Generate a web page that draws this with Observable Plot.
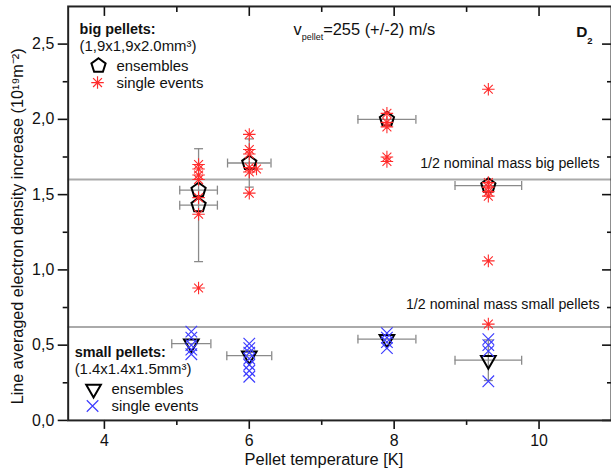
<!DOCTYPE html>
<html><head><meta charset="utf-8">
<script src="https://cdn.jsdelivr.net/npm/d3@7"></script>
<script src="https://cdn.jsdelivr.net/npm/@observablehq/plot@0.6"></script>
<style>
html,body{margin:0;padding:0;overflow:hidden;background:#fff;}
#chart{position:relative;width:611px;height:474px;overflow:hidden;}
</style></head><body><div id="chart"></div>
<script>
// ---- data ----
const bigEnsT    = [5.3, 5.3, 6.0, 7.9, 9.3];
const bigEnsV    = [1.53, 1.43, 1.71, 2.00, 1.56];
const bigEnsTErr = [0.26, 0.26, 0.30, 0.40, 0.46];
const bigEnsVErr = [0, 0.375, 0.16, 0, 0];

const smallEnsT    = [5.2, 6.0, 7.9, 9.3];
const smallEnsV    = [0.51, 0.43, 0.54, 0.40];
const smallEnsTErr = [0.27, 0.31, 0.40, 0.46];
const smallEnsVErr = [0, 0, 0, 0.135];

const bigSingleT = [5.3,5.3,5.3,5.3,5.3,5.3,5.3, 6.0,6.0,6.0,6.0,6.0,6.0,6.1, 7.9,7.9,7.9,7.9,7.9, 9.3,9.3,9.3,9.3,9.3,9.3,9.3];
const bigSingleV = [1.70,1.67,1.63,1.60,1.48,1.37,0.88, 1.90,1.80,1.77,1.68,1.65,1.51,1.67, 2.04,1.98,1.95,1.75,1.72, 2.20,1.58,1.55,1.52,1.49,1.06,0.64];

const smallSingleT = [5.2,5.2,5.2,5.2,5.2, 6.0,6.0,6.0,6.0,6.0,6.0,6.0, 7.9,7.9,7.9,7.9, 9.3,9.3,9.3,9.3];
const smallSingleV = [0.59,0.55,0.50,0.47,0.44, 0.51,0.48,0.45,0.41,0.37,0.33,0.29, 0.58,0.55,0.52,0.48, 0.54,0.50,0.46,0.26];

const refBig = [1.6];
const refSmall = [0.62];
const refBigLabel = "1/2 nominal mass big pellets";
const refSmallLabel = "1/2 nominal mass small pellets";

const xMajor = [4, 6, 8, 10];
const xMinor = [5, 7, 9];
const yMajor = [0, 0.5, 1.0, 1.5, 2.0, 2.5];
const yMinor = [0.25, 0.75, 1.25, 1.75, 2.25];

const xLabel = "Pellet temperature [K]";
const yLabel = "Line averaged electron density increase (10¹⁹m⁻²)";

// ---- tables ----
const bigEns = bigEnsT.map((t, i) => ({t, v: bigEnsV[i], te: bigEnsTErr[i], ve: bigEnsVErr[i]}));
const smallEns = smallEnsT.map((t, i) => ({t, v: smallEnsV[i], te: smallEnsTErr[i], ve: smallEnsVErr[i]}));
const ens = bigEns.concat(smallEns);
const bigSingle = bigSingleT.map((t, i) => ({t, v: bigSingleV[i]}));
const smallSingle = smallSingleT.map((t, i) => ({t, v: smallSingleV[i]}));

// ---- symbols ----
const sym = fn => ({draw(c, size) { fn(c, Math.sqrt(size / Math.PI)); }});
const pentagon = sym((c, r) => { for (let k = 0; k < 5; k++) { const a = -Math.PI/2 + k*2*Math.PI/5; const x = r*Math.cos(a), y = r*Math.sin(a); k ? c.lineTo(x, y) : c.moveTo(x, y); } c.closePath(); });
const triDown = sym((c, r) => { for (let k = 0; k < 3; k++) { const a = Math.PI/2 + k*2*Math.PI/3; const x = r*Math.cos(a), y = r*Math.sin(a); k ? c.lineTo(x, y) : c.moveTo(x, y); } c.closePath(); });
const aster = sym((c, r) => { for (let k = 0; k < 4; k++) { const a = k*Math.PI/4; const x = r*Math.cos(a), y = r*Math.sin(a); c.moveTo(-x, -y); c.lineTo(x, y); } });
const times = sym((c, r) => { c.moveTo(-r, -r); c.lineTo(r, r); c.moveTo(-r, r); c.lineTo(r, -r); });
const vTick = sym((c, r) => { c.moveTo(0, -r); c.lineTo(0, r); });
const hTick = sym((c, r) => { c.moveTo(-r, 0); c.lineTo(r, 0); });

const RED = "#ff2b2b", BLUE = "#3d3dff", ERR = "#8a8a8a", TXT = "#111";
const FONT = "'Liberation Sans', Arial, Helvetica, sans-serif";
const yFmt = d => d.toFixed(1).replace(".", ",");
const blank = () => "";
const tickStyle = {stroke: "#111", strokeWidth: 1.6, label: null};

const svg = Plot.plot({
  width: 614, height: 474,
  marginLeft: 68, marginRight: 0, marginTop: 6, marginBottom: 52,
  x: {domain: [3.5, 11]},
  y: {domain: [0, 2.75]},
  style: {fontFamily: FONT, fontSize: "16px", color: TXT, background: "#fff"},
  marks: [
    // reference lines
    Plot.ruleY(refBig, {y: d => d, stroke: "#aaa", strokeWidth: 2}),
    Plot.ruleY(refSmall, {y: d => d, stroke: "#aaa", strokeWidth: 2}),
    Plot.text(refBig, {y: d => d, text: () => refBigLabel, frameAnchor: "right", textAnchor: "end", lineAnchor: "bottom", dx: -12, dy: -12, fontSize: 14.3}),
    Plot.text(refSmall, {y: d => d, text: () => refSmallLabel, frameAnchor: "right", textAnchor: "end", lineAnchor: "bottom", dx: -12, dy: -18, fontSize: 14.3}),
    // horizontal error bars
    Plot.ruleY(ens, {y: "v", x1: d => d.t - d.te, x2: d => d.t + d.te, stroke: ERR, strokeWidth: 1.3}),
    Plot.dot(ens, {x: d => d.t - d.te, y: "v", symbol: vTick, r: 4.5, stroke: ERR, fill: "none", strokeWidth: 1.3}),
    Plot.dot(ens, {x: d => d.t + d.te, y: "v", symbol: vTick, r: 4.5, stroke: ERR, fill: "none", strokeWidth: 1.3}),
    // vertical error bars
    Plot.ruleX(ens.filter(d => d.ve > 0), {x: "t", y1: d => d.v - d.ve, y2: d => d.v + d.ve, stroke: ERR, strokeWidth: 1.3}),
    Plot.dot(ens.filter(d => d.ve > 0), {x: "t", y: d => d.v - d.ve, symbol: hTick, r: 4.5, stroke: ERR, fill: "none", strokeWidth: 1.3}),
    Plot.dot(ens.filter(d => d.ve > 0), {x: "t", y: d => d.v + d.ve, symbol: hTick, r: 4.5, stroke: ERR, fill: "none", strokeWidth: 1.3}),
    // ensembles
    Plot.dot(bigEns, {x: "t", y: "v", symbol: pentagon, r: 7.5, stroke: "#000", fill: "none", strokeWidth: 2}),
    Plot.dot(smallEns, {x: "t", y: "v", symbol: triDown, r: 8.5, stroke: "#000", fill: "none", strokeWidth: 2}),
    // single events
    Plot.dot(bigSingle, {x: "t", y: "v", symbol: aster, r: 6.3, stroke: RED, fill: "none", strokeWidth: 1.1}),
    Plot.dot(smallSingle, {x: "t", y: "v", symbol: times, r: 5.8, stroke: BLUE, fill: "none", strokeWidth: 1.2}),
    // axes
    Plot.axisY(yMajor, {anchor: "left", tickSize: 10, tickPadding: 4, tickFormat: yFmt, fontSize: 16, ...tickStyle}),
    Plot.axisY(yMinor, {anchor: "left", tickSize: 5, tickFormat: blank, ...tickStyle}),
    Plot.axisY(yMajor, {anchor: "right", tickSize: 10, insetRight: 10, tickFormat: blank, ...tickStyle}),
    Plot.axisY(yMinor, {anchor: "right", tickSize: 5, insetRight: 5, tickFormat: blank, ...tickStyle}),
    Plot.axisX(xMajor, {anchor: "bottom", tickSize: 9, tickPadding: 5, fontSize: 16, ...tickStyle}),
    Plot.axisX(xMinor, {anchor: "bottom", tickSize: 5, tickFormat: blank, ...tickStyle}),
    Plot.axisX(xMajor, {anchor: "top", tickSize: 9, insetTop: 9, tickFormat: blank, ...tickStyle}),
    Plot.axisX(xMinor, {anchor: "top", tickSize: 5, insetTop: 5, tickFormat: blank, ...tickStyle}),
    Plot.frame({stroke: "#222", strokeWidth: 2}),
    // axis titles
    Plot.text([xLabel], {text: d => d, frameAnchor: "bottom", lineAnchor: "bottom", dx: -16, dy: 45, fontSize: 16.5}),
    Plot.text([yLabel], {text: d => d, frameAnchor: "left", rotate: -90, textAnchor: "middle", lineAnchor: "top", dx: -57, dy: 13, fontSize: 16.3})
  ]
});

// ---- annotations & legends (layout) ----
const g = d3.select(svg).append("g").attr("font-family", FONT).attr("fill", TXT).attr("text-anchor", "start");
const vt = g.append("text").attr("x", 295).attr("y", 35).attr("font-size", 16.5);
vt.append("tspan").text("v");
vt.append("tspan").attr("font-size", 9).attr("dy", 5).text("pellet");
vt.append("tspan").attr("dy", -5).text("=255 (+/-2) m/s");
const dt = g.append("text").attr("x", 579).attr("y", 37).attr("font-size", 15.5).attr("font-weight", "bold");
dt.append("tspan").text("D");
dt.append("tspan").attr("font-size", 9.5).attr("dy", 7).text("2");

function legend(x, y0, title, dims, ensSym, ensR, singSym, singR, singColor) {
  g.append("text").attr("x", x).attr("y", y0).attr("font-size", 14.5).attr("font-weight", "bold").text(title);
  g.append("text").attr("x", x).attr("y", y0 + 17).attr("font-size", 15).text(dims);
  g.append("path").attr("transform", `translate(${x + 19},${y0 + 32})`)
    .attr("d", d3.symbol(ensSym, Math.PI * ensR * ensR)()).attr("fill", "none").attr("stroke", "#000").attr("stroke-width", 2);
  g.append("text").attr("x", x + 37).attr("y", y0 + 37).attr("font-size", 15).text("ensembles");
  g.append("path").attr("transform", `translate(${x + 18},${y0 + 49})`)
    .attr("d", d3.symbol(singSym, Math.PI * singR * singR)()).attr("fill", "none").attr("stroke", singColor).attr("stroke-width", 1.2);
  g.append("text").attr("x", x + 37).attr("y", y0 + 54).attr("font-size", 15).text("single events");
}
legend(80, 34, "big pellets:", "(1,9x1,9x2.0mm³)", pentagon, 7.5, aster, 6.3, RED);
legend(75, 359, "small pellets:", "(1.4x1.4x1.5mm³)", triDown, 8.5, times, 5.8, BLUE);

document.getElementById("chart").appendChild(svg);
</script></body></html>
